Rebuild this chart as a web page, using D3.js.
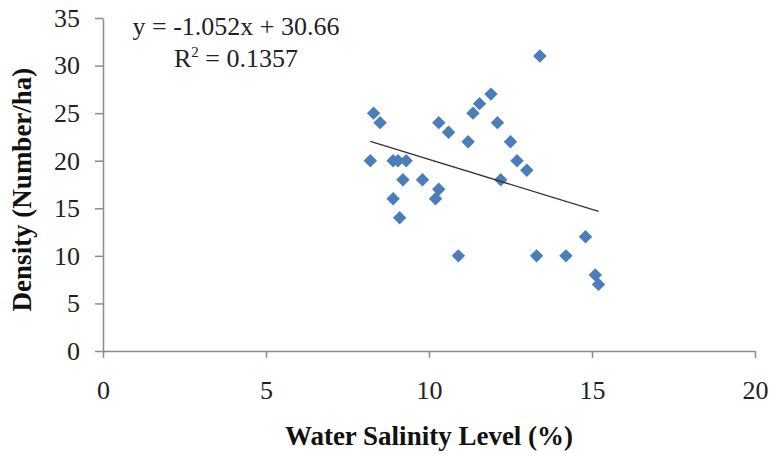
<!DOCTYPE html>
<html>
<head>
<meta charset="utf-8">
<script src="https://cdn.jsdelivr.net/npm/d3@7"></script>
<style>
  body { margin: 0; background: #fff; }
  text { font-family: "Liberation Serif", "Times New Roman", serif; }
</style>
</head>
<body>
<div id="chart"></div>
<script>
//Data
var salinity = [8.2, 8.3, 8.5, 8.9, 9.05, 9.3, 8.9, 9.1, 9.2, 9.8,
  10.3, 10.2, 10.3, 10.6, 10.9, 11.2, 11.35, 11.55, 11.9, 12.1,
  12.5, 12.2, 12.7, 13.0, 13.3, 13.4, 14.2, 14.8, 15.1, 15.2];
var density = [20, 25, 24, 20, 20, 20, 16, 14, 18, 18,
  17, 16, 24, 23, 10, 22, 25, 26, 27, 24,
  22, 18, 20, 19, 10, 31, 10, 12, 8, 7];
var slope = -1.052;
var intercept = 30.66;
var rSquared = "0.1357";
var xTicks = [0, 5, 10, 15, 20];
var yTicks = [0, 5, 10, 15, 20, 25, 30, 35];

var points = salinity.map(function (s, i) {
  return { x: s, y: density[i] };
});

//Chart dimensions
var margin = { top: 18, right: 16, bottom: 103, left: 103 },
  width = 771 - margin.left - margin.right,
  height = 454 - margin.top - margin.bottom;

var svg = d3
  .select("#chart")
  .append("svg")
  .attr("width", 771)
  .attr("height", 454)
  .append("g")
  .attr("transform", "translate(" + margin.left + "," + margin.top + ")");

var x = d3.scaleLinear().domain([0, 20]).range([0, width]);
var y = d3.scaleLinear().domain([0, 35]).range([height, 0]);

// X axis
var xAxis = svg
  .append("g")
  .attr("transform", "translate(0," + height + ")")
  .call(d3.axisBottom(x).tickValues(xTicks).tickSize(7).tickPadding(23).tickSizeOuter(0));
// Y axis
var yAxis = svg
  .append("g")
  .call(d3.axisLeft(y).tickValues(yTicks).tickSize(8).tickPadding(15).tickSizeOuter(0));

[xAxis, yAxis].forEach(function (g) {
  g.selectAll("path, line").attr("stroke", "#8c8c8c").attr("stroke-width", 1.5);
  g.selectAll("text").style("font-size", "26px").attr("fill", "#222");
});

// diamonds
var diamond = d3.symbol().type(d3.symbolDiamond2).size(115);
svg
  .selectAll(".pt")
  .data(points)
  .enter()
  .append("path")
  .attr("class", "pt")
  .attr("d", diamond)
  .attr("transform", function (d) {
    return "translate(" + x(d.x) + "," + y(d.y) + ")";
  })
  .attr("fill", "#4a7ebb");

// trend line
var xMin = d3.min(salinity), xMax = d3.max(salinity);
svg
  .append("line")
  .attr("x1", x(xMin))
  .attr("y1", y(slope * xMin + intercept))
  .attr("x2", x(xMax))
  .attr("y2", y(slope * xMax + intercept))
  .attr("stroke", "#333")
  .attr("stroke-width", 1.2);

// equation
svg
  .append("text")
  .attr("x", 133)
  .attr("y", 17)
  .attr("text-anchor", "middle")
  .style("font-size", "26px")
  .attr("fill", "#222")
  .text("y = -1.052x + 30.66");
var r2 = svg
  .append("text")
  .attr("x", 133)
  .attr("y", 49)
  .attr("text-anchor", "middle")
  .style("font-size", "26px")
  .attr("fill", "#222");
r2.append("tspan").text("R");
r2.append("tspan").attr("dy", -10).style("font-size", "15px").text("2");
r2.append("tspan").attr("dy", 10).text(" = " + rSquared);

// axis titles
svg
  .append("text")
  .attr("x", width / 2)
  .attr("y", height + 94)
  .attr("text-anchor", "middle")
  .style("font-size", "27px")
  .style("font-weight", "bold")
  .attr("fill", "#111")
  .text("Water Salinity Level (%)");

svg
  .append("text")
  .attr("transform", "translate(" + (-72) + "," + (height / 2 + 5) + ") rotate(-90)")
  .attr("text-anchor", "middle")
  .style("font-size", "27px")
  .style("font-weight", "bold")
  .attr("fill", "#111")
  .text("Density (Number/ha)");
</script>
</body>
</html>
